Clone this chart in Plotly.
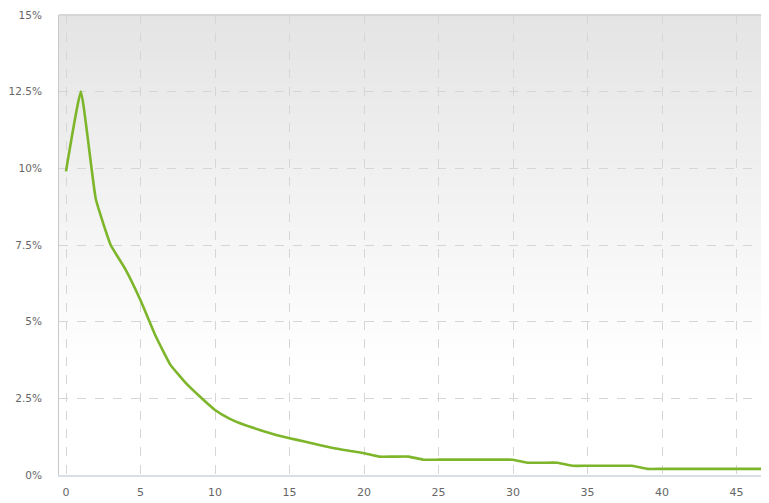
import plotly.graph_objects as go

# Data
periods = list(range(48))
share_pct = [9.9, 12.5, 9.0, 7.5, 6.7, 5.7, 4.55, 3.6, 3.02, 2.55,
             2.12, 1.83, 1.63, 1.47, 1.32, 1.2, 1.09, 0.98, 0.87, 0.79,
             0.71, 0.6, 0.6, 0.6, 0.5, 0.5, 0.5, 0.5, 0.5, 0.5,
             0.5, 0.4, 0.4, 0.4, 0.3, 0.3, 0.3, 0.3, 0.3, 0.2,
             0.2, 0.2, 0.2, 0.2, 0.2, 0.2, 0.2, 0.2]

y_tick_vals = [0, 2.5, 5, 7.5, 10, 12.5, 15]
y_tick_text = ["0%", "2.5%", "5%", "7.5%", "10%", "12.5%", "15%"]
x_tick_vals = [0, 5, 10, 15, 20, 25, 30, 35, 40, 45]

fig = go.Figure()
fig.add_trace(go.Scatter(
    x=periods, y=share_pct, mode="lines",
    line=dict(color="#7db52b", width=2.6, shape="spline", smoothing=0.35),
    hoverinfo="skip", showlegend=False,
))

# Background vertical gradient (grey at top -> white lower down)
shapes = []
n = 80
for i in range(n):
    f0 = i / n
    f1 = (i + 1) / n
    fm = (f0 + f1) / 2
    start = 0.24
    if fm < start:
        c = 255
    else:
        c = round(255 - (255 - 228) * (fm - start) / (1 - start))
    shapes.append(dict(
        type="rect", xref="x domain", yref="y domain",
        x0=0, x1=1, y0=f0, y1=f1 + 0.002,
        fillcolor=f"rgb({c},{c},{c})", line=dict(width=0), layer="below",
    ))
# top border
shapes.append(dict(type="line", xref="x domain", yref="y domain",
                   x0=0, x1=1, y0=1, y1=1,
                   line=dict(color="#d2d2d2", width=1.5), layer="above"))

# The page body adds an 8px offset, so the figure is sized to fill the rest
fig.update_layout(
    width=761, height=495,
    margin=dict(l=51, r=0, t=7, b=28, autoexpand=False),
    paper_bgcolor="white", plot_bgcolor="white",
    shapes=shapes,
    font=dict(family="DejaVu Sans", size=11, color="#666666"),
    xaxis=dict(
        range=[-0.47, 47.18], tickvals=x_tick_vals,
        showgrid=True, gridcolor="#d6d6d6", griddash="dash", gridwidth=1,
        zeroline=False, showline=True, linecolor="#d8dfe6", linewidth=2,
        ticks="", ticklabelstandoff=6, automargin=False,
        tickfont=dict(family="DejaVu Sans", size=11, color="#666666"),
        fixedrange=True,
    ),
    yaxis=dict(
        range=[0, 15], tickvals=y_tick_vals, ticktext=y_tick_text,
        showgrid=True, gridcolor="#d6d6d6", griddash="dash", gridwidth=1,
        zeroline=False, showline=True, linecolor="#c8c8c8", linewidth=1,
        ticks="", ticklabelstandoff=14, automargin=False,
        tickfont=dict(family="DejaVu Sans", size=10.5, color="#666666"),
        fixedrange=True,
    ),
)

fig.write_html("out.html")
